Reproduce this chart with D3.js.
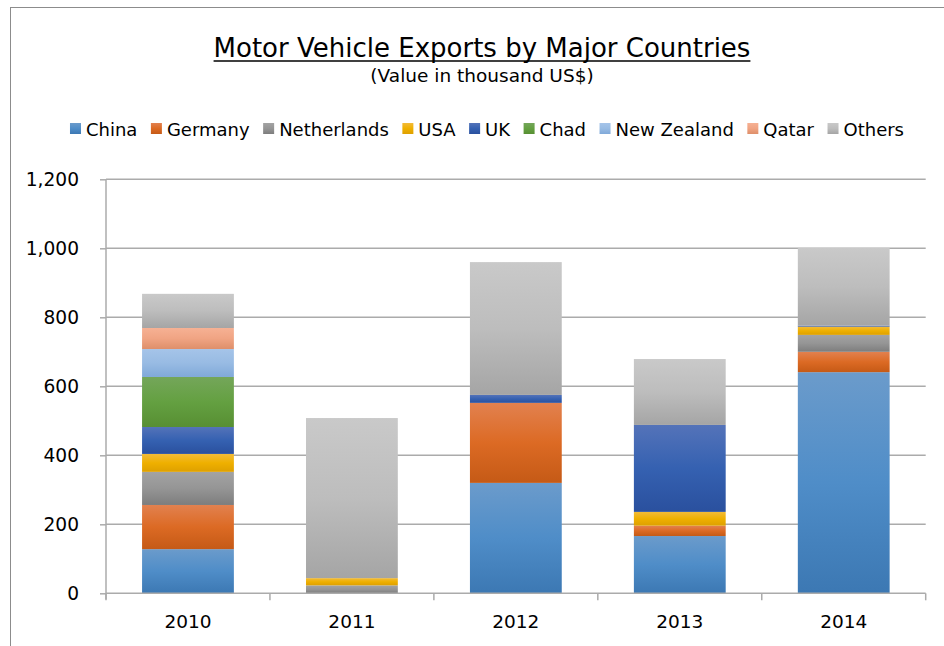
<!DOCTYPE html>
<html>
<head>
<meta charset="utf-8">
<script src="https://cdn.jsdelivr.net/npm/d3@7"></script>
<style>
  html, body { margin: 0; padding: 0; background: #fff; }
  svg { display: block; font-family: "DejaVu Sans", Verdana, sans-serif; }
</style>
</head>
<body>
<svg id="chart" width="944" height="646"></svg>
<script>
// ---- data ----
const years = ["2010", "2011", "2012", "2013", "2014"];
const seriesNames = ["China", "Germany", "Netherlands", "USA", "UK", "Chad", "New Zealand", "Qatar", "Others"];
const china       = [128,   0, 320, 166, 641];
const germany     = [128,   0, 232,  30,  59];
const netherlands = [ 96,  23,   0,   0,  49];
const usa         = [ 52,  21,   0,  40,  24];
const uk          = [ 78,   0,  23, 252,   3];
const chad        = [145,   0,   0,   0,   0];
const newZealand  = [ 81,   0,   0,   0,   0];
const qatar       = [ 61,   0,   0,   0,   0];
const others      = [ 99, 464, 385, 191, 225];
const yTicks = [0, 200, 400, 600, 800, 1000, 1200];

// gradient colours (top, middle, bottom) per series
const seriesColors = [
  ["#6b9bcb", "#4f8dc8", "#3c78b3"],
  ["#e2814f", "#dc6a24", "#c55a16"],
  ["#a3a3a3", "#959595", "#7d7d7d"],
  ["#f2bb39", "#efb000", "#dea000"],
  ["#5473b9", "#3561b1", "#2a509e"],
  ["#74a65a", "#64a041", "#578f33"],
  ["#a5c4e9", "#98bbe3", "#80a9d9"],
  ["#f6b194", "#f0a483", "#de8f6a"],
  ["#c9c9c9", "#bdbdbd", "#a5a5a5"]
];

const seriesValues = [china, germany, netherlands, usa, uk, chad, newZealand, qatar, others];
const table = years.map((y, i) => {
  const row = { year: y };
  seriesNames.forEach((s, k) => row[s] = seriesValues[k][i]);
  return row;
});

const svg = d3.select("#chart");

// gradients
const defs = svg.append("defs");
seriesNames.forEach((s, k) => {
  const g = defs.append("linearGradient")
    .attr("id", "grad" + k)
    .attr("x1", 0).attr("y1", 0).attr("x2", 0).attr("y2", 1);
  g.append("stop").attr("offset", "0%").attr("stop-color", seriesColors[k][0]);
  g.append("stop").attr("offset", "50%").attr("stop-color", seriesColors[k][1]);
  g.append("stop").attr("offset", "100%").attr("stop-color", seriesColors[k][2]);
});

// chart frame
svg.append("line").attr("x1", 10.5).attr("x2", 10.5).attr("y1", 7).attr("y2", 646)
  .attr("stroke", "#8c8c8c").attr("stroke-width", 1);
svg.append("line").attr("x1", 10).attr("x2", 944).attr("y1", 7.5).attr("y2", 7.5)
  .attr("stroke", "#8c8c8c").attr("stroke-width", 1);

// scales
const plotLeft = 106, plotRight = 925.7, plotTop = 179.3, plotBottom = 593.3;
const x = d3.scaleBand().domain(years).range([plotLeft, plotRight]).paddingInner(0.44).paddingOuter(0.22);
const y = d3.scaleLinear().domain([0, 1200]).range([plotBottom, plotTop]);

// gridlines
const gridG = svg.append("g");
gridG.selectAll("line").data(yTicks.filter(t => t > 0)).join("line")
  .attr("x1", plotLeft).attr("x2", plotRight)
  .attr("y1", d => y(d)).attr("y2", d => y(d))
  .attr("stroke", "#ababab").attr("stroke-width", 1.5);

// y axis
const yAxis = d3.axisLeft(y).tickValues(yTicks).tickSize(6).tickPadding(21)
  .tickFormat(d3.format(","));
const yG = svg.append("g").attr("transform", `translate(${plotLeft},0)`).call(yAxis);
yG.select(".domain").remove();
yG.selectAll(".tick line").attr("stroke", "#ababab").attr("stroke-width", 1.5);
yG.selectAll(".tick text").attr("font-size", 18.6).attr("fill", "#000")
  .attr("font-family", "DejaVu Sans");
svg.append("line").attr("x1", plotLeft).attr("x2", plotLeft).attr("y1", plotTop).attr("y2", plotBottom + 6)
  .attr("stroke", "#ababab").attr("stroke-width", 1.5);

// stacked bars
const stack = d3.stack().keys(seriesNames);
const layers = stack(table);
svg.append("g").selectAll("g").data(layers).join("g")
  .attr("fill", (d, k) => `url(#grad${k})`)
  .selectAll("rect").data(d => d.filter(p => p[1] - p[0] > 0)).join("rect")
  .attr("x", d => x(d.data.year))
  .attr("width", x.bandwidth())
  .attr("y", d => y(d[1]))
  .attr("height", d => y(d[0]) - y(d[1]));

// x axis
const xG = svg.append("g").attr("transform", `translate(0,${plotBottom})`);
xG.append("line").attr("x1", plotLeft).attr("x2", plotRight).attr("y1", 0).attr("y2", 0)
  .attr("stroke", "#ababab").attr("stroke-width", 1.5);
const bounds = years.map(yr => x(yr) - x.step() * x.paddingInner() / 2);
bounds.push(plotRight);
xG.selectAll("line.tk").data(bounds).join("line").attr("class", "tk")
  .attr("x1", d => d).attr("x2", d => d).attr("y1", 0).attr("y2", 7)
  .attr("stroke", "#ababab").attr("stroke-width", 1.5);
xG.selectAll("text").data(years).join("text")
  .attr("x", d => x(d) + x.bandwidth() / 2).attr("y", 35)
  .attr("text-anchor", "middle").attr("font-size", 18.5).attr("fill", "#000")
  .text(d => d);

// title
const title = svg.append("text").attr("x", 482).attr("y", 57)
  .attr("text-anchor", "middle").attr("font-size", 26).attr("fill", "#000")
  .text("Motor Vehicle Exports by Major Countries");
const tw = title.node().getComputedTextLength();
svg.append("line").attr("x1", 482 - tw / 2).attr("x2", 482 + tw / 2)
  .attr("y1", 61).attr("y2", 61).attr("stroke", "#000").attr("stroke-width", 1.6);
svg.append("text").attr("x", 482).attr("y", 82)
  .attr("text-anchor", "middle").attr("font-size", 18.5).attr("fill", "#000")
  .text("(Value in thousand US$)");

// legend
const legend = svg.append("g");
const items = legend.selectAll("g").data(seriesNames).join("g");
items.append("rect").attr("width", 11).attr("height", 11).attr("y", 123)
  .attr("fill", (d, k) => `url(#grad${k})`);
items.append("text").attr("y", 135.5).attr("font-size", 18).attr("fill", "#000").text(d => d);
let cx = 0;
const widths = [];
items.each(function () {
  const w = d3.select(this).select("text").node().getComputedTextLength();
  widths.push(w);
});
const totalW = widths.reduce((a, w) => a + 11 + 5 + w, 0) + 13.5 * (widths.length - 1);
cx = 487 - totalW / 2;
items.each(function (d, k) {
  const g = d3.select(this);
  g.select("rect").attr("x", cx);
  g.select("text").attr("x", cx + 16);
  cx += 16 + widths[k] + 13.5;
});
</script>
</body>
</html>
